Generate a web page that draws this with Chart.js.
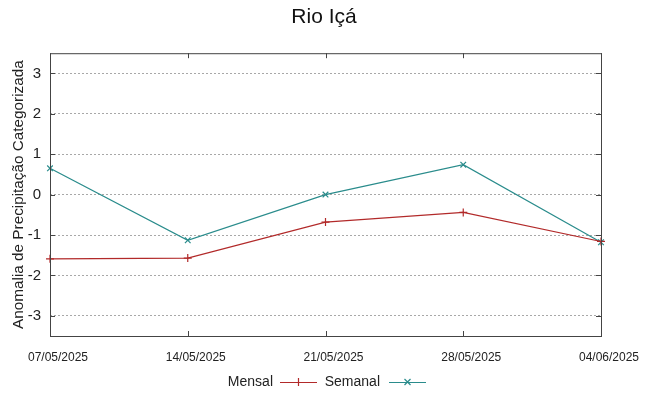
<!DOCTYPE html>
<html>
<head>
<meta charset="utf-8">
<script src="https://cdn.jsdelivr.net/npm/chart.js@4"></script>
<style>
  html, body { margin: 0; padding: 0; background: #fff; }
  #wrap { width: 648px; height: 396px; }
</style>
</head>
<body>
<div id="wrap"><canvas id="c" width="648" height="396"></canvas></div>
<script>
// ---- Data ----
const dates = ["07/05/2025", "14/05/2025", "21/05/2025", "28/05/2025", "04/06/2025"];
const mensal = [-1.59, -1.57, -0.68, -0.44, -1.16];
const semanal = [0.65, -1.13, 0.0, 0.74, -1.18];
const yTicks = [-3, -2, -1, 0, 1, 2, 3];

const RED = "#b22a2a";
const TEAL = "#2a8c8c";
const FONT = "'Liberation Sans', Arial, sans-serif";

// frame + inner tick marks + legend (gnuplot look)
const gnuFrame = {
  id: "gnuFrame",
  afterDatasetsDraw(chart) {
    const {ctx, chartArea: a, scales} = chart;
    ctx.save();
    ctx.strokeStyle = "#444";
    ctx.lineWidth = 1;
    ctx.strokeRect(a.left + 0.5, a.top + 0.5, a.right - a.left, a.bottom - a.top);
    ctx.beginPath();
    yTicks.forEach(v => {
      const y = Math.round(scales.y.getPixelForValue(v)) + 0.5;
      ctx.moveTo(a.left, y); ctx.lineTo(a.left + 5, y);
      ctx.moveTo(a.right, y); ctx.lineTo(a.right - 5, y);
    });
    dates.forEach((d, i) => {
      const x = Math.round(scales.x.getPixelForValue(i)) + 0.5;
      ctx.moveTo(x, a.bottom); ctx.lineTo(x, a.bottom - 5);
      ctx.moveTo(x, a.top); ctx.lineTo(x, a.top + 5);
    });
    ctx.stroke();

    // legend: text then sample
    const ly = 382;
    ctx.font = "14px " + FONT;
    ctx.fillStyle = "#222";
    ctx.textAlign = "right";
    ctx.textBaseline = "middle";
    const items = [
      {label: "Mensal", color: RED, tx: 273, x0: 280, style: "cross"},
      {label: "Semanal", color: TEAL, tx: 380, x0: 389, style: "crossRot"}
    ];
    items.forEach(it => {
      ctx.fillText(it.label, it.tx, ly);
      ctx.strokeStyle = it.color;
      ctx.lineWidth = 1.2;
      ctx.beginPath();
      ctx.moveTo(it.x0, ly + 0.5); ctx.lineTo(it.x0 + 37, ly + 0.5);
      const cx = it.x0 + 18.5, r = 4;
      if (it.style === "cross") {
        ctx.moveTo(cx - r, ly + 0.5); ctx.lineTo(cx + r, ly + 0.5);
        ctx.moveTo(cx, ly - r); ctx.lineTo(cx, ly + r);
      } else {
        ctx.moveTo(cx - 3, ly - 3); ctx.lineTo(cx + 3, ly + 3);
        ctx.moveTo(cx - 3, ly + 3); ctx.lineTo(cx + 3, ly - 3);
      }
      ctx.stroke();
    });
    ctx.restore();
  }
};

new Chart(document.getElementById("c"), {
  type: "line",
  data: {
    labels: dates,
    datasets: [
      {
        label: "Mensal",
        data: mensal,
        borderColor: RED,
        backgroundColor: RED,
        borderWidth: 1.2,
        pointStyle: "cross",
        pointRadius: 4,
        pointBorderWidth: 1.2,
        tension: 0
      },
      {
        label: "Semanal",
        data: semanal,
        borderColor: TEAL,
        backgroundColor: TEAL,
        borderWidth: 1.2,
        pointStyle: "crossRot",
        pointRadius: 4,
        pointBorderWidth: 1.2,
        tension: 0
      }
    ]
  },
  options: {
    responsive: false,
    animation: false,
    devicePixelRatio: 1,
    layout: { padding: 0 },
    plugins: {
      legend: { display: false },
      tooltip: { enabled: false },
      title: {
        display: true,
        text: "Rio Içá",
        color: "#111",
        font: { family: FONT, size: 21, weight: "normal" },
        padding: { top: 5, bottom: 23 }
      }
    },
    scales: {
      x: {
        type: "category",
        offset: false,
        grid: { display: false, drawTicks: false },
        border: { display: false },
        ticks: {
          color: "#222",
          font: { family: "'Liberation Sans Narrow', " + FONT, size: 12 },
          padding: 14,
          labelOffset: 8,
          maxRotation: 0,
          autoSkip: false
        },
        afterFit: s => { s.height = 60; }
      },
      y: {
        min: -3.5,
        max: 3.5,
        afterBuildTicks: s => { s.ticks = yTicks.map(v => ({value: v})); },
        grid: { color: "#a8a8a8", lineWidth: 1, drawTicks: false },
        border: { display: false, dash: [2, 2] },
        ticks: {
          color: "#222",
          font: { family: FONT, size: 15 },
          padding: 9
        },
        title: {
          display: true,
          text: "Anomalia de Precipitação Categorizada",
          color: "#222",
          font: { family: FONT, size: 15.3 },
          padding: { top: 10, bottom: 0 }
        },
        afterFit: s => { s.width = 50; }
      },
      // empty right axis, only reserves the right margin
      yr: {
        position: "right",
        min: -3.5,
        max: 3.5,
        grid: { display: false, drawTicks: false },
        border: { display: false },
        ticks: { display: false },
        afterFit: s => { s.width = 47; }
      }
    }
  },
  plugins: [gnuFrame]
});
</script>
</body>
</html>
